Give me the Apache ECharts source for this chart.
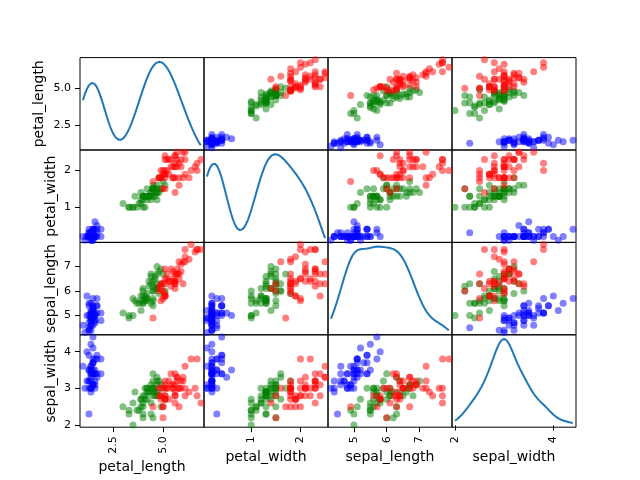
<!DOCTYPE html>
<html><head><meta charset="utf-8">
<script src="https://cdn.jsdelivr.net/npm/echarts@6/dist/echarts.min.js"></script>
<style>html,body{margin:0;padding:0;background:#fff}#c{width:640px;height:480px}</style>
</head><body><div id="c"></div>
<script>
const columns = ['petal_length', 'petal_width', 'sepal_length', 'sepal_width'];
const speciesNames = ['setosa', 'versicolor', 'virginica'];

const species = [
 'setosa','setosa','setosa','setosa','setosa','setosa','setosa','setosa','setosa','setosa',
 'setosa','setosa','setosa','setosa','setosa','setosa','setosa','setosa','setosa','setosa',
 'setosa','setosa','setosa','setosa','setosa','setosa','setosa','setosa','setosa','setosa',
 'setosa','setosa','setosa','setosa','setosa','setosa','setosa','setosa','setosa','setosa',
 'setosa','setosa','setosa','setosa','setosa','setosa','setosa','setosa','setosa','setosa',
 'versicolor','versicolor','versicolor','versicolor','versicolor','versicolor','versicolor','versicolor','versicolor','versicolor',
 'versicolor','versicolor','versicolor','versicolor','versicolor','versicolor','versicolor','versicolor','versicolor','versicolor',
 'versicolor','versicolor','versicolor','versicolor','versicolor','versicolor','versicolor','versicolor','versicolor','versicolor',
 'versicolor','versicolor','versicolor','versicolor','versicolor','versicolor','versicolor','versicolor','versicolor','versicolor',
 'versicolor','versicolor','versicolor','versicolor','versicolor','versicolor','versicolor','versicolor','versicolor','versicolor',
 'virginica','virginica','virginica','virginica','virginica','virginica','virginica','virginica','virginica','virginica',
 'virginica','virginica','virginica','virginica','virginica','virginica','virginica','virginica','virginica','virginica',
 'virginica','virginica','virginica','virginica','virginica','virginica','virginica','virginica','virginica','virginica',
 'virginica','virginica','virginica','virginica','virginica','virginica','virginica','virginica','virginica','virginica',
 'virginica','virginica','virginica','virginica','virginica','virginica','virginica','virginica','virginica','virginica'
];

const sepal_length = [
 5.1,4.9,4.7,4.6,5.0,5.4,4.6,5.0,4.4,4.9,5.4,4.8,4.8,4.3,5.8,5.7,5.4,5.1,5.7,5.1,5.4,5.1,4.6,5.1,4.8,5.0,5.0,5.2,5.2,4.7,4.8,5.4,5.2,5.5,4.9,5.0,5.5,4.9,4.4,5.1,5.0,4.5,4.4,5.0,5.1,4.8,5.1,4.6,5.3,5.0,
 7.0,6.4,6.9,5.5,6.5,5.7,6.3,4.9,6.6,5.2,5.0,5.9,6.0,6.1,5.6,6.7,5.6,5.8,6.2,5.6,5.9,6.1,6.3,6.1,6.4,6.6,6.8,6.7,6.0,5.7,5.5,5.5,5.8,6.0,5.4,6.0,6.7,6.3,5.6,5.5,5.5,6.1,5.8,5.0,5.6,5.7,5.7,6.2,5.1,5.7,
 6.3,5.8,7.1,6.3,6.5,7.6,4.9,7.3,6.7,7.2,6.5,6.4,6.8,5.7,5.8,6.4,6.5,7.7,7.7,6.0,6.9,5.6,7.7,6.3,6.7,7.2,6.2,6.1,6.4,7.2,7.4,7.9,6.4,6.3,6.1,7.7,6.3,6.4,6.0,6.9,6.7,6.9,5.8,6.8,6.7,6.7,6.3,6.5,6.2,5.9
];
const sepal_width = [
 3.5,3.0,3.2,3.1,3.6,3.9,3.4,3.4,2.9,3.1,3.7,3.4,3.0,3.0,4.0,4.4,3.9,3.5,3.8,3.8,3.4,3.7,3.6,3.3,3.4,3.0,3.4,3.5,3.4,3.2,3.1,3.4,4.1,4.2,3.1,3.2,3.5,3.6,3.0,3.4,3.5,2.3,3.2,3.5,3.8,3.0,3.8,3.2,3.7,3.3,
 3.2,3.2,3.1,2.3,2.8,2.8,3.3,2.4,2.9,2.7,2.0,3.0,2.2,2.9,2.9,3.1,3.0,2.7,2.2,2.5,3.2,2.8,2.5,2.8,2.9,3.0,2.8,3.0,2.9,2.6,2.4,2.4,2.7,2.7,3.0,3.4,3.1,2.3,3.0,2.5,2.6,3.0,2.6,2.3,2.7,3.0,2.9,2.9,2.5,2.8,
 3.3,2.7,3.0,2.9,3.0,3.0,2.5,2.9,2.5,3.6,3.2,2.7,3.0,2.5,2.8,3.2,3.0,3.8,2.6,2.2,3.2,2.8,2.8,2.7,3.3,3.2,2.8,3.0,2.8,3.0,2.8,3.8,2.8,2.8,2.6,3.0,3.4,3.1,3.0,3.1,3.1,3.1,2.7,3.2,3.3,3.0,2.5,3.0,3.4,3.0
];
const petal_length = [
 1.4,1.4,1.3,1.5,1.4,1.7,1.4,1.5,1.4,1.5,1.5,1.6,1.4,1.1,1.2,1.5,1.3,1.4,1.7,1.5,1.7,1.5,1.0,1.7,1.9,1.6,1.6,1.5,1.4,1.6,1.6,1.5,1.5,1.4,1.5,1.2,1.3,1.4,1.3,1.5,1.3,1.3,1.3,1.6,1.9,1.4,1.6,1.4,1.5,1.4,
 4.7,4.5,4.9,4.0,4.6,4.5,4.7,3.3,4.6,3.9,3.5,4.2,4.0,4.7,3.6,4.4,4.5,4.1,4.5,3.9,4.8,4.0,4.9,4.7,4.3,4.4,4.8,5.0,4.5,3.5,3.8,3.7,3.9,5.1,4.5,4.5,4.7,4.4,4.1,4.0,4.4,4.6,4.0,3.3,4.2,4.2,4.2,4.3,3.0,4.1,
 6.0,5.1,5.9,5.6,5.8,6.6,4.5,6.3,5.8,6.1,5.1,5.3,5.5,5.0,5.1,5.3,5.5,6.7,6.9,5.0,5.7,4.9,6.7,4.9,5.7,6.0,4.8,4.9,5.6,5.8,6.1,6.4,5.6,5.1,5.6,6.1,5.6,5.5,4.8,5.4,5.6,5.1,5.1,5.9,5.7,5.2,5.0,5.2,5.4,5.1
];
const petal_width = [
 0.2,0.2,0.2,0.2,0.2,0.4,0.3,0.2,0.2,0.1,0.2,0.2,0.1,0.1,0.2,0.4,0.4,0.3,0.3,0.3,0.2,0.4,0.2,0.5,0.2,0.2,0.4,0.2,0.2,0.2,0.2,0.4,0.1,0.2,0.2,0.2,0.2,0.1,0.2,0.2,0.3,0.3,0.2,0.6,0.4,0.3,0.2,0.2,0.2,0.2,
 1.4,1.5,1.5,1.3,1.5,1.3,1.6,1.0,1.3,1.4,1.0,1.5,1.0,1.4,1.3,1.4,1.5,1.0,1.5,1.1,1.8,1.3,1.5,1.2,1.3,1.4,1.4,1.7,1.5,1.0,1.1,1.0,1.2,1.6,1.5,1.6,1.5,1.3,1.3,1.3,1.2,1.4,1.2,1.0,1.3,1.2,1.3,1.3,1.1,1.3,
 2.5,1.9,2.1,1.8,2.2,2.1,1.7,1.8,1.8,2.5,2.0,1.9,2.1,2.0,2.4,2.3,1.8,2.2,2.3,1.5,2.3,2.0,2.0,1.8,2.1,1.8,1.8,1.8,2.1,1.6,1.9,2.0,2.2,1.5,1.4,2.3,2.4,1.8,1.8,2.1,2.4,2.3,1.9,2.3,2.5,2.3,1.9,2.0,2.3,1.8
];

// tick labels
const xTicks_petal_length = [2.5, 5.0];
const xTicks_petal_width = [1, 2];
const xTicks_sepal_length = [5, 6, 7];
const xTicks_sepal_width = [2, 4];
const yTicks_petal_length = [2.5, 5.0];
const yTicks_petal_width = [1, 2];
const yTicks_sepal_length = [5, 6, 7];
const yTicks_sepal_width = [2, 3, 4];

// ---------------------------------------------------------------
const values = { petal_length, petal_width, sepal_length, sepal_width };
const xTicks = { petal_length: xTicks_petal_length, petal_width: xTicks_petal_width, sepal_length: xTicks_sepal_length, sepal_width: xTicks_sepal_width };
const yTicks = { petal_length: yTicks_petal_length, petal_width: yTicks_petal_width, sepal_length: yTicks_sepal_length, sepal_width: yTicks_sepal_width };
const decimals = { petal_length: 1, petal_width: 0, sepal_length: 0, sepal_width: 0 };
const colors = { setosa: '#0000ff', versicolor: '#008000', virginica: '#ff0000' };

const N = columns.length;
const LEFT = 80, TOP = 57.6, CW = 124, CH = 92.4;
const FONT = 'DejaVu Sans';

function bounds(arr) {
  const mn = Math.min(...arr), mx = Math.max(...arr);
  const e = (mx - mn) * 0.05 / 2;
  return [mn - e, mx + e];
}
// Gaussian KDE (Scott's rule), evaluated over the data's min..max, as pandas does
function kde(arr, m) {
  const n = arr.length;
  const mean = arr.reduce((a, b) => a + b, 0) / n;
  const v = arr.reduce((a, b) => a + (b - mean) * (b - mean), 0) / (n - 1);
  const h = Math.sqrt(v) * Math.pow(n, -0.2);
  const mn = Math.min(...arr), mx = Math.max(...arr);
  const out = [];
  for (let k = 0; k < m; k++) {
    const x = mn + (mx - mn) * k / (m - 1);
    let s = 0;
    for (const xi of arr) { const z = (x - xi) / h; s += Math.exp(-0.5 * z * z); }
    out.push([x, s / (n * h * Math.sqrt(2 * Math.PI))]);
  }
  return out;
}

const grids = [], xAxes = [], yAxes = [], diagY = [], series = [];
const tickStyle = { color: '#000', width: 1 };
const labelStyle = (show, vals, dec, rot) => ({
  show, customValues: vals, rotate: rot, margin: 9, color: '#000', fontSize: 11, fontFamily: FONT,
  formatter: v => Number(v).toFixed(dec)
});

for (let i = 0; i < N; i++) {
  for (let j = 0; j < N; j++) {
    const k = i * N + j;
    const a = columns[i], b = columns[j];
    const bx = bounds(values[b]), by = bounds(values[a]);
    grids.push({ left: LEFT + j * CW, top: TOP + i * CH, width: CW, height: CH, show: true,
      borderColor: '#000', borderWidth: 1, backgroundColor: 'transparent', containLabel: false, outerBoundsMode: 'none' });
    const bottom = i === N - 1, leftCol = j === 0;
    xAxes.push({
      gridIndex: k, type: 'value', min: bx[0], max: bx[1],
      axisLine: { show: false }, splitLine: { show: false },
      axisTick: { show: bottom, customValues: xTicks[b], length: 5, lineStyle: tickStyle },
      axisLabel: labelStyle(bottom, xTicks[b], decimals[b], 90),
      name: bottom ? b : '', nameLocation: 'middle', nameMoveOverlap: false,
      nameGap: bottom ? (decimals[b] ? 33 : 23) : 0,
      nameTextStyle: { color: '#000', fontSize: 14, fontFamily: FONT }
    });
    yAxes.push({
      gridIndex: k, type: 'value', min: by[0], max: by[1],
      axisLine: { show: false }, splitLine: { show: false },
      axisTick: { show: leftCol, customValues: yTicks[a], length: 5, lineStyle: tickStyle },
      axisLabel: labelStyle(leftCol, yTicks[a], decimals[a], 0),
      name: leftCol ? a : '', nameLocation: 'middle', nameRotate: 90, nameMoveOverlap: false,
      nameGap: leftCol ? (decimals[a] ? 34 : 22) : 0,
      nameTextStyle: { color: '#000', fontSize: 14, fontFamily: FONT }
    });
    if (i === j) {
      const pts = kde(values[a], 400);
      const ys = pts.map(p => p[1]);
      const ymn = Math.min(...ys), ymx = Math.max(...ys), d = ymx - ymn;
      const yi = N * N + diagY.length;
      diagY.push({ gridIndex: k, type: 'value', min: ymn - 0.05 * d, max: ymx + 0.05 * d, show: false,
        axisLine: { show: false }, splitLine: { show: false }, axisTick: { show: false }, axisLabel: { show: false } });
      series.push({ type: 'line', xAxisIndex: k, yAxisIndex: yi, data: pts, showSymbol: false, symbol: 'none',
        silent: true, animation: false, clip: true, lineStyle: { color: '#1f77b4', width: 2 } });
    } else {
      for (const sp of speciesNames) {
        const pts = [];
        for (let r = 0; r < species.length; r++) if (species[r] === sp) pts.push([values[b][r], values[a][r]]);
        series.push({ type: 'scatter', name: sp, xAxisIndex: k, yAxisIndex: k, data: pts, symbolSize: 7,
          silent: true, animation: false, clip: true,
          itemStyle: { color: colors[sp], opacity: 0.5, borderWidth: 0 } });
      }
    }
  }
}

const chart = echarts.init(document.getElementById('c'), null, { renderer: 'canvas' });
chart.setOption({ backgroundColor: '#fff', animation: false, grid: grids, xAxis: xAxes, yAxis: yAxes.concat(diagY), series });
</script>
</body></html>
